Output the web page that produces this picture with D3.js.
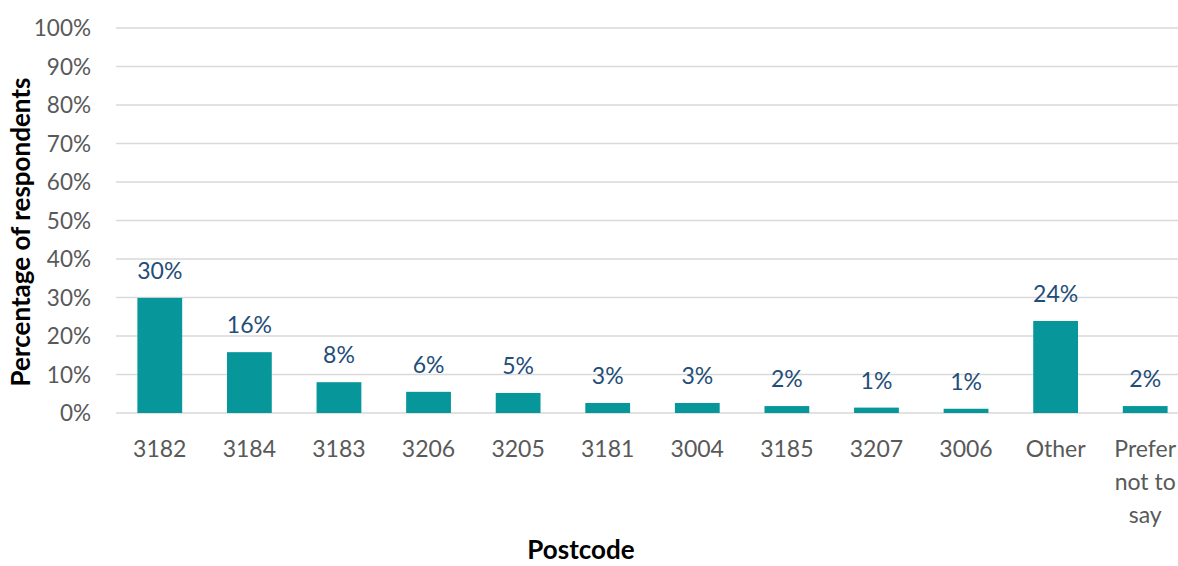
<!DOCTYPE html>
<html><head><meta charset="utf-8">
<script src="https://cdn.jsdelivr.net/npm/d3@7"></script>
<style>body{margin:0;background:#fff}svg{display:block}</style>
</head><body>
<svg id="c" width="1178" height="566"></svg>
<script>
const categories = ["3182","3184","3183","3206","3205","3181","3004","3185","3207","3006","Other","Prefer not to say"];
const values = [29.9, 15.8, 8.0, 5.5, 5.2, 2.6, 2.6, 1.8, 1.4, 1.1, 23.9, 1.8];
const labels = ["30%","16%","8%","6%","5%","3%","3%","2%","1%","1%","24%","2%"];
const yTicks = [0,10,20,30,40,50,60,70,80,90,100];
const xTitle = "Postcode";
const yTitle = "Percentage of respondents";

const svg = d3.select("#c");
const font = "Lato, 'Open Sans', sans-serif";
const x = d3.scaleBand().domain(categories).range([115, 1190]).paddingInner(0.5).paddingOuter(0.25);
const y = d3.scaleLinear().domain([0,100]).range([413, 28]);

// gridlines
svg.append("g").selectAll("line").data(yTicks).join("line")
  .attr("x1", 116).attr("x2", 1178)
  .attr("y1", d => y(d)).attr("y2", d => y(d))
  .attr("stroke", "#D9D9D9").attr("stroke-width", 1.5);

// y tick labels
svg.append("g").selectAll("text").data(yTicks).join("text")
  .attr("x", 91).attr("y", d => y(d)).attr("dy", "0.36em")
  .attr("text-anchor", "end").attr("font-family", font).attr("font-size", 22.5)
  .attr("fill", "#595959").text(d => d + "%");

// bars
svg.append("g").selectAll("rect").data(values).join("rect")
  .attr("x", (d,i) => x(categories[i])).attr("width", x.bandwidth())
  .attr("y", d => y(d)).attr("height", d => y(0) - y(d))
  .attr("fill", "#07969A");

// data labels
svg.append("g").selectAll("text").data(values).join("text")
  .attr("x", (d,i) => x(categories[i]) + x.bandwidth()/2)
  .attr("y", d => y(d) - 19)
  .attr("text-anchor", "middle").attr("font-family", font).attr("font-size", 23)
  .attr("fill", "#1F4E79").text((d,i) => labels[i]);

// x tick labels (wrapped)
const wrap = {"Prefer not to say": ["Prefer","not to","say"]};
const xt = svg.append("g").selectAll("text").data(categories).join("text")
  .attr("x", d => x(d) + x.bandwidth()/2).attr("y", 457)
  .attr("text-anchor", "middle").attr("font-family", font).attr("font-size", 23)
  .attr("fill", "#595959");
xt.each(function(d){
  const lines = wrap[d] || [d];
  const t = d3.select(this);
  lines.forEach((l, k) => t.append("tspan").attr("x", x(d) + x.bandwidth()/2).attr("dy", k ? 33 : 0).text(l));
});

// axis titles
svg.append("text").attr("x", 581).attr("y", 559).attr("text-anchor", "middle")
  .attr("font-family", font).attr("font-weight", "bold").attr("font-size", 26)
  .attr("fill", "#000").text(xTitle);
svg.append("text").attr("transform", "translate(30,232) rotate(-90)").attr("text-anchor", "middle")
  .attr("font-family", font).attr("font-weight", "bold").attr("font-size", 26)
  .attr("fill", "#000").text(yTitle);
</script>
</body></html>
